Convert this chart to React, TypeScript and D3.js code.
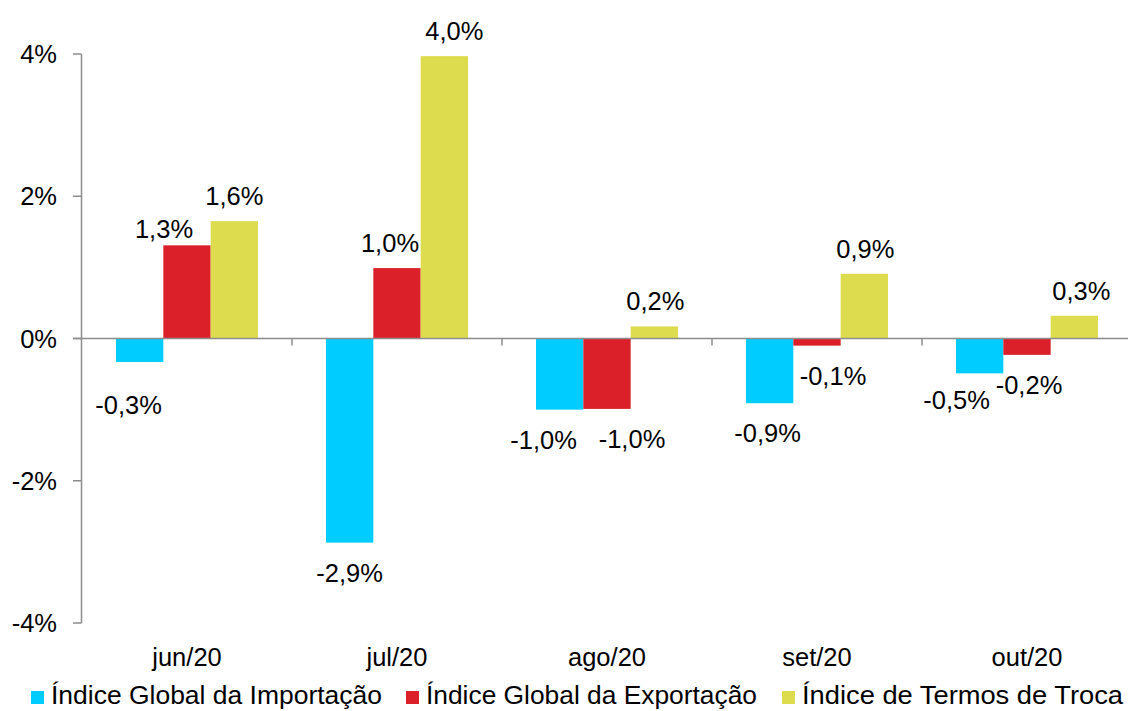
import React, { useEffect, useRef } from "react";
import * as d3 from "d3";

const months = ["jun/20", "jul/20", "ago/20", "set/20", "out/20"];
const seriesNames = [
  "Índice Global da Importação",
  "Índice Global da Exportação",
  "Índice de Termos de Troca",
];
const importacao = [-0.33, -2.87, -1.0, -0.91, -0.49];
const exportacao = [1.31, 0.99, -0.99, -0.1, -0.23];
const termosTroca = [1.65, 3.97, 0.17, 0.91, 0.32];
const yTicks = [-4, -2, 0, 2, 4];
const colors = ["#00CCFF", "#DC202A", "#DDDC4E"];

// manual label nudges (Excel-style hand-placed labels), [dx, dy] per series, per month
const nudges: [number, number][][] = [
  [[-11, 13], [0, 0], [-16, 0], [-2, 0], [-23, -3]],
  [[-23, 9], [-7, 0], [25, 0], [16, 0], [2, 0]],
  [[0, 0], [10, 0], [1, 0], [1, 0], [7, 0]],
];

const fmt = (v: number) => v.toFixed(1).replace(".", ",") + "%";

const FS = 25;

const App = () => {
  const svgRef = useRef<SVGSVGElement>(null);

  useEffect(() => {
    const svg = d3.select(svgRef.current);
    svg.selectAll("*").remove();
    const font = "'Liberation Sans', Arial, sans-serif";

    const x = d3.scaleBand().domain(months).range([82, 1132]);
    const y = d3.scaleLinear().domain([-4, 4]).range([623, 54]);
    const xs = d3.scaleBand().domain(["0", "1", "2"]).range([0, 142]);
    const series = [importacao, exportacao, termosTroca];

    const label = (
      g: d3.Selection<any, any, any, any>,
      tx: number,
      ty: number,
      txt: string,
      anchor = "middle",
      sx = 1.02
    ) =>
      g
        .append("text")
        .attr("transform", `translate(${tx},${ty}) scale(${sx},1)`)
        .attr("text-anchor", anchor)
        .attr("font-family", font)
        .attr("font-size", FS)
        .attr("fill", "#000")
        .text(txt);

    // bars
    series.forEach((vals, s) => {
      svg
        .append("g")
        .selectAll("rect")
        .data(vals)
        .join("rect")
        .attr("x", (_, i) => x(months[i])! + (x.bandwidth() - 142) / 2 + xs(String(s))!)
        .attr("width", xs.bandwidth())
        .attr("y", (d) => y(Math.max(0, d)))
        .attr("height", (d) => Math.abs(y(d) - y(0)))
        .attr("fill", colors[s]);
    });

    // y axis
    const axisColor = "#8C8C8C";
    svg
      .append("line")
      .attr("x1", 81.5).attr("x2", 81.5)
      .attr("y1", y(4)).attr("y2", y(-4))
      .attr("stroke", axisColor).attr("stroke-width", 1.5);
    svg
      .append("g")
      .selectAll("line")
      .data(yTicks)
      .join("line")
      .attr("x1", 73).attr("x2", 81.5)
      .attr("y1", (d) => y(d)).attr("y2", (d) => y(d))
      .attr("stroke", axisColor).attr("stroke-width", 1.5);
    const yg = svg.append("g");
    yTicks.forEach((t) => label(yg, 57, y(t) + 9, t + "%", "end"));

    // zero line + category ticks
    svg
      .append("line")
      .attr("x1", 73).attr("x2", 1128)
      .attr("y1", y(0)).attr("y2", y(0))
      .attr("stroke", axisColor).attr("stroke-width", 1.5);
    svg
      .append("g")
      .selectAll("line")
      .data(months.slice(1))
      .join("line")
      .attr("x1", (d) => x(d)!).attr("x2", (d) => x(d)!)
      .attr("y1", y(0)).attr("y2", y(0) + 7)
      .attr("stroke", axisColor).attr("stroke-width", 1.5);

    // category labels
    const xg = svg.append("g");
    months.forEach((m) => label(xg, x(m)! + x.bandwidth() / 2, 666, m));

    // value labels
    const vg = svg.append("g");
    series.forEach((vals, s) => {
      vals.forEach((d, i) => {
        const cx =
          x(months[i])! + (x.bandwidth() - 142) / 2 + xs(String(s))! + xs.bandwidth() / 2 + nudges[s][i][0];
        const cy = (d >= 0 ? y(d) - 25 : y(d) + 30) + nudges[s][i][1];
        label(vg, cx, cy + 9, fmt(d));
      });
    });

    // legend (text squeezed to the widths of the original)
    const legendX = [31, 406, 782];
    const legendW = [331, 331, 321];
    const lg = svg.append("g");
    seriesNames.forEach((name, s) => {
      lg.append("rect")
        .attr("x", legendX[s]).attr("y", 691)
        .attr("width", 13).attr("height", 13)
        .attr("fill", colors[s]);
      lg.append("text")
        .attr("x", legendX[s] + 20)
        .attr("y", 704)
        .attr("font-family", font)
        .attr("font-size", FS)
        .attr("textLength", legendW[s])
        .attr("lengthAdjust", "spacingAndGlyphs")
        .text(name);
    });
  }, []);

  return (
    <svg
      ref={svgRef}
      width={1128}
      height={711}
      style={{ position: "absolute", left: 0, top: 0, background: "#fff" }}
    ></svg>
  );
};

export default App;
